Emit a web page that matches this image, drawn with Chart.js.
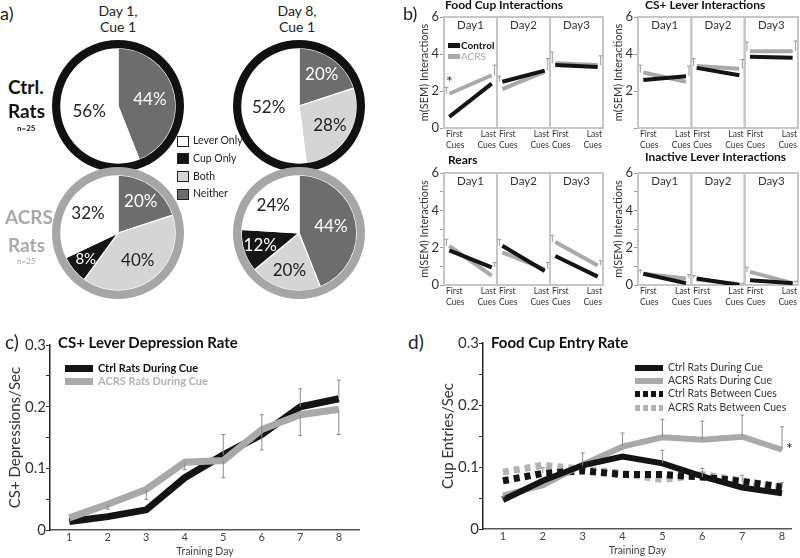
<!DOCTYPE html>
<html>
<head>
<meta charset="utf-8">
<script src="https://cdn.jsdelivr.net/npm/chart.js@4.4.1/dist/chart.umd.min.js"></script>
<style>
  body { margin: 0; background: #fff; width: 800px; height: 558px; position: relative; overflow: hidden; font-family: Lato, sans-serif; color: #222; }
  .t { position: absolute; white-space: nowrap; line-height: 1.2; }
  .sw { position: absolute; }
</style>
</head>
<body>
<script>
// ---- panel a: pies (order clockwise from 12 o'clock)
const pieCats = ['Neither', 'Both', 'Cup Only', 'Lever Only'];
const pieColors = ['#6d6d6d', '#d5d5d5', '#151515', '#ffffff'];
const pieTextColors = ['#fff', '#222', '#fff', '#222'];
const ctrlDay1 = [44, 0, 0, 56];
const ctrlDay8 = [20, 28, 0, 52];
const acrsDay1 = [20, 40, 8, 32];
const acrsDay8 = [44, 20, 12, 24];

// ---- panel b: first / last cues per day
const cueDays = ['Day1', 'Day2', 'Day3'];
const cueLabels = [['First', 'Cues'], ['Last', 'Cues']];
const cueTicks = [0, 1, 2, 3, 4, 5, 6];
const foodCtrl = [0.6, 2.4, 2.5, 3.1, 3.4, 3.3];
const foodAcrs = [1.85, 2.85, 2.1, 3.05, 3.5, 3.4];
const foodErr = [2.2, 3.4, 2.8, 3.75, 4.1, 3.9];
const leverCtrl = [2.6, 2.8, 3.25, 2.85, 3.85, 3.8];
const leverAcrs = [3.0, 2.5, 3.35, 3.2, 4.15, 4.15];
const leverErr = [3.4, 3.35, 3.75, 3.7, 4.65, 4.7];
const rearsCtrl = [1.85, 0.95, 2.1, 0.75, 1.55, 0.45];
const rearsAcrs = [2.1, 0.5, 1.75, 0.85, 2.3, 1.05];
const rearsErr = [2.45, 1.2, 2.45, 1.2, 2.65, 1.3];
const inactCtrl = [0.6, 0.1, 0.35, 0.0, 0.25, 0.1];
const inactAcrs = [0.6, 0.35, 0.3, 0.05, 0.7, 0.1];
const inactErr = [0.8, 0.55, 0.5, 0.1, 0.95, 0.2];

// ---- panels c, d: training days
const trainingDays = [1, 2, 3, 4, 5, 6, 7, 8];
const rateTicks = [0, 0.05, 0.1, 0.15, 0.2, 0.25, 0.3];
const pressCtrl = [0.014, 0.022, 0.033, 0.085, 0.122, 0.155, 0.200, 0.213];
const pressAcrs = [0.020, 0.042, 0.066, 0.110, 0.113, 0.163, 0.187, 0.196];
const pressCtrlErr = [0, 0, 0, 0, 0.033, 0.032, 0.029, 0.030];
const pressAcrsErr = [0, 0.008, 0.016, 0.012, 0.028, 0.033, 0.034, 0.041];
const cupCtrlCue = [0.047, 0.078, 0.103, 0.117, 0.106, 0.085, 0.067, 0.058];
const cupAcrsCue = [0.054, 0.071, 0.104, 0.133, 0.148, 0.144, 0.149, 0.128];
const cupCtrlBetween = [0.078, 0.090, 0.094, 0.088, 0.088, 0.084, 0.077, 0.068];
const cupAcrsBetween = [0.092, 0.103, 0.097, 0.090, 0.080, 0.088, 0.078, 0.067];
const cupCtrlCueErr = [0.006, 0, 0.020, 0, 0.021, 0, 0, 0];
const cupAcrsCueErr = [0, 0, 0, 0.022, 0.029, 0.030, 0.035, 0.037];
const cupBetweenErr = [0, 0.009, 0, 0, 0, 0.014, 0.010, 0.007];

Chart.defaults.font.family = 'Lato, sans-serif';
Chart.defaults.color = '#333';
Chart.defaults.animation = false;
Chart.defaults.plugins.legend.display = false;
Chart.defaults.plugins.tooltip.enabled = false;

function mk(left, top, w, h) {
  const c = document.createElement('canvas');
  c.width = w; c.height = h;
  c.style.cssText = `position:absolute;left:${left}px;top:${top}px;width:${w}px;height:${h}px`;
  document.body.appendChild(c);
  return c;
}

// text helper, cy = visual centre of the line
function txt(s, x, cy, size, o = {}) {
  const d = document.createElement('div');
  d.className = 't';
  d.textContent = s;
  d.style.fontSize = size + 'px';
  d.style.top = (cy - size * 0.65) + 'px';
  if (o.bold) d.style.fontWeight = 'bold';
  if (o.color) d.style.color = o.color;
  if (o.align === 'center') { d.style.left = (x - 100) + 'px'; d.style.width = '200px'; d.style.textAlign = 'center'; }
  else d.style.left = x + 'px';
  document.body.appendChild(d);
}

function swatch(x, cy, w, h, bg) {
  const d = document.createElement('div');
  d.className = 'sw';
  d.style.cssText += `left:${x}px;top:${cy - h / 2}px;width:${w}px;height:${h}px;background:${bg}`;
  document.body.appendChild(d);
  return d;
}

// ---------- a) pies
const pieLabels = {
  id: 'pieLabels',
  afterDatasetsDraw(chart) {
    const ds = chart.data.datasets[1], ctx = chart.ctx;
    chart.getDatasetMeta(1).data.forEach((arc, i) => {
      const v = ds.data[i];
      if (!v) return;
      const mid = (arc.startAngle + arc.endAngle) / 2;
      const r = arc.outerRadius * (0.76 - 0.0045 * v);
      ctx.save();
      ctx.font = (v < 10 ? 15 : 17) + 'px Lato';
      ctx.fillStyle = pieTextColors[i];
      ctx.textAlign = 'center';
      ctx.textBaseline = 'middle';
      ctx.fillText(v + '%', arc.x + r * Math.cos(mid), arc.y + r * Math.sin(mid));
      ctx.restore();
    });
  }
};

function pie(values, ring, cx, cy) {
  new Chart(mk(cx - 66, cy - 66, 132, 132), {
    type: 'doughnut',
    data: {
      labels: pieCats,
      datasets: [
        { data: [1], backgroundColor: [ring], borderWidth: 0, weight: 1 },
        { data: values, backgroundColor: pieColors, borderColor: '#fff', borderWidth: 1.2, weight: 7 }
      ]
    },
    options: { responsive: false, cutout: 0, layout: { padding: 0 } },
    plugins: [pieLabels]
  });
}

pie(ctrlDay1, '#111', 117.5, 105.5);
pie(ctrlDay8, '#111', 298.5, 105.5);
pie(acrsDay1, '#a6a6a6', 117.5, 233);
pie(acrsDay8, '#a6a6a6', 299, 233);

txt('a)', 0, 15, 18);
txt('Day 1,', 118, 12, 14, { align: 'center' });
txt('Cue 1', 118, 28, 14, { align: 'center' });
txt('Day 8,', 297, 12, 14, { align: 'center' });
txt('Cue 1', 297, 28, 14, { align: 'center' });
txt('Ctrl.', 8, 88, 19, { bold: true, color: '#111' });
txt('Rats', 8, 112, 19, { bold: true, color: '#111' });
txt('n=25', 17, 129, 8, { bold: true, color: '#111' });
txt('ACRS', 5, 218, 19, { bold: true, color: '#a9a9a9' });
txt('Rats', 8, 246, 19, { bold: true, color: '#a9a9a9' });
txt('n=25', 17, 262, 8, { color: '#a9a9a9' });

pieCats.slice().reverse().forEach((c, i) => {
  const cy = 141 + i * 17.7;
  const s = swatch(177, cy, 12, 11, pieColors[pieCats.length - 1 - i]);
  s.style.boxSizing = 'border-box';
  s.style.border = '1px solid #222';
  txt(c, 193, cy, 10.5, { color: '#222' });
});

// ---------- b) first vs last cues
function cuePoints(vals) {
  const pts = [];
  cueDays.forEach((d, i) => {
    pts.push({ x: i + 0.1, y: vals[2 * i] }, { x: i + 0.9, y: vals[2 * i + 1] }, { x: i + 1, y: null });
  });
  return pts;
}

const cuePanels = {
  id: 'cuePanels',
  beforeDatasetsDraw(chart) {
    const { ctx, chartArea: a, scales: { x } } = chart;
    ctx.save();
    ctx.strokeStyle = '#c6c6c6';
    ctx.lineWidth = 2;
    cueDays.forEach((d, i) => {
      const l = x.getPixelForValue(i), r = x.getPixelForValue(i + 1);
      ctx.strokeRect(l, a.top, r - l, a.bottom - a.top);
    });
    ctx.restore();
  },
  afterDatasetsDraw(chart) {
    const { ctx, chartArea: a, scales: { x, y } } = chart;
    const [c0, c1] = chart.data.datasets;
    ctx.save();
    ctx.strokeStyle = '#9a9a9a';
    ctx.lineWidth = 1;
    c1.errTop.forEach((top, k) => {
      const idx = Math.floor(k / 2) * 3 + (k % 2);
      const p = c0.data[idx];
      const lo = Math.max(p.y, c1.data[idx].y);
      const px = x.getPixelForValue(p.x) + (k % 2 ? 3 : -3);
      const y0 = y.getPixelForValue(lo), y1 = y.getPixelForValue(top);
      ctx.beginPath();
      ctx.moveTo(px, y0); ctx.lineTo(px, y1);
      ctx.moveTo(px - 2, y1); ctx.lineTo(px + 2, y1);
      ctx.stroke();
    });
    ctx.fillStyle = '#333';
    ctx.textBaseline = 'middle';
    cueDays.forEach((d, i) => {
      const l = x.getPixelForValue(i), r = x.getPixelForValue(i + 1);
      ctx.font = '11.5px Lato';
      ctx.textAlign = 'center';
      ctx.fillText(d, (l + r) / 2, a.top + 8);
      ctx.font = '8.5px Lato';
      ctx.textAlign = 'left';
      ctx.fillText(cueLabels[0][0], l + 2, a.bottom + 6);
      ctx.fillText(cueLabels[0][1], l + 2, a.bottom + 17.5);
      ctx.textAlign = 'right';
      ctx.fillText(cueLabels[1][0], r - 1, a.bottom + 6);
      ctx.fillText(cueLabels[1][1], r - 1, a.bottom + 17.5);
    });
    ctx.restore();
  }
};

function cueChart(ctrl, acrs, errTop, l, t, r, b, hideZero) {
  const left = l - 32, top = t - 17;
  new Chart(mk(left, top, r - left + 1, b - top + 26), {
    type: 'line',
    data: {
      datasets: [
        { data: cuePoints(ctrl), borderColor: '#141414', borderWidth: 4, pointRadius: 0, order: 1 },
        { data: cuePoints(acrs), borderColor: '#a9a9a9', borderWidth: 4, pointRadius: 0, order: 2, errTop: errTop }
      ]
    },
    options: {
      responsive: false,
      layout: { padding: { top: 17, bottom: 26, left: 0, right: 1 } },
      scales: {
        x: { type: 'linear', min: 0, max: 3, display: false },
        y: {
          min: 0, max: 6,
          afterBuildTicks: s => { s.ticks = cueTicks.map(v => ({ value: v })); },
          ticks: { callback: v => (v % 2 === 0 && !(hideZero && v === 0)) ? v : '', font: { size: 13 }, padding: 1, color: '#333' },
          grid: { drawOnChartArea: false, tickLength: 4, color: '#999' },
          border: { color: '#c6c6c6', width: 2 },
          title: { display: true, text: 'm(SEM) Interactions', font: { size: 11 }, padding: { top: 6, bottom: 0 }, color: '#333' },
          afterFit: s => { s.width = 32; }
        }
      }
    },
    plugins: [cuePanels]
  });
}

cueChart(foodCtrl, foodAcrs, foodErr, 444, 17, 603, 128, false);
cueChart(leverCtrl, leverAcrs, leverErr, 638, 17, 798, 128, true);
cueChart(rearsCtrl, rearsAcrs, rearsErr, 444, 173, 603, 285, false);
cueChart(inactCtrl, inactAcrs, inactErr, 638, 173, 798, 285, false);

txt('b)', 403, 15, 18);
txt('Food Cup Interactions', 445, 6, 12, { bold: true, color: '#111' });
txt('CS+ Lever Interactions', 645, 6, 12, { bold: true, color: '#111' });
txt('Rears', 448, 161, 12, { bold: true, color: '#111' });
txt('Inactive Lever Interactions', 645, 158, 12, { bold: true, color: '#111' });
swatch(448, 45, 12, 5, '#141414');
swatch(448, 56, 12, 5, '#a9a9a9');
txt('Control', 461, 45, 10, { bold: true, color: '#111' });
txt('ACRS', 461, 56, 10, { color: '#a9a9a9' });
txt('*', 446, 81, 16, { color: '#222' });

// ---------- c) and d) rates over training days
const errorBars = {
  id: 'errorBars',
  afterDatasetsDraw(chart) {
    const { ctx, scales: { x, y } } = chart;
    ctx.save();
    ctx.strokeStyle = '#8c8c8c';
    ctx.lineWidth = 1;
    chart.data.datasets.forEach(ds => {
      ['errUp', 'errDown'].forEach(k => {
        if (!ds[k]) return;
        ds.data.forEach((p, i) => {
          const e = ds[k][i];
          if (!e) return;
          const px = x.getPixelForValue(p.x);
          const y0 = y.getPixelForValue(p.y);
          const y1 = y.getPixelForValue(k === 'errUp' ? p.y + e : p.y - e);
          ctx.beginPath();
          ctx.moveTo(px, y0); ctx.lineTo(px, y1);
          ctx.moveTo(px - 2, y1); ctx.lineTo(px + 2, y1);
          ctx.stroke();
        });
      });
    });
    ctx.restore();
  }
};

const pts = vals => trainingDays.map((d, i) => ({ x: d, y: vals[i] }));

function rateOptions(yTitle, xMax) {
  return {
    responsive: false,
    layout: { padding: { top: 15, bottom: 0, left: 0, right: 0 } },
    scales: {
      x: {
        type: 'linear', min: 0.5, max: xMax,
        afterBuildTicks: s => { s.ticks = trainingDays.map(v => ({ value: v })); },
        ticks: { font: { size: 11 }, padding: 1, color: '#444' },
        grid: { display: false, drawTicks: false },
        border: { color: '#555', width: 1.5 },
        title: { display: true, text: 'Training Day', font: { size: 10.5 }, padding: { top: 0, bottom: 0 }, color: '#444' }
      },
      y: {
        min: 0, max: 0.3,
        afterBuildTicks: s => { s.ticks = rateTicks.map(v => ({ value: v })); },
        ticks: {
          callback: v => Math.round(v * 100) % 10 === 0 ? (v === 0 ? '0' : v.toFixed(1)) : '',
          font: { size: 15 }, padding: 0, color: '#333'
        },
        grid: { drawOnChartArea: false, tickLength: 4, color: '#333' },
        border: { color: '#222', width: 1.5 },
        title: { display: true, text: yTitle, font: { size: 15 }, padding: { top: 4, bottom: 0 }, color: '#333' },
        afterFit: s => { s.width = 48; }
      }
    }
  };
}

new Chart(mk(2, 330, 358, 228), {
  type: 'line',
  data: {
    datasets: [
      { data: pts(pressCtrl), borderColor: '#141414', borderWidth: 7, pointRadius: 0, order: 2, errUp: pressCtrlErr },
      { data: pts(pressAcrs), borderColor: '#a9a9a9', borderWidth: 7, pointRadius: 0, order: 1, errDown: pressAcrsErr }
    ]
  },
  options: rateOptions('CS+ Depressions/Sec', 8.55),
  plugins: [errorBars]
});

new Chart(mk(435, 328, 357, 229), {
  type: 'line',
  data: {
    datasets: [
      { data: pts(cupCtrlCue), borderColor: '#141414', borderWidth: 6, pointRadius: 0, order: 1, errUp: cupCtrlCueErr },
      { data: pts(cupAcrsCue), borderColor: '#a9a9a9', borderWidth: 6, pointRadius: 0, order: 2, errUp: cupAcrsCueErr },
      { data: pts(cupCtrlBetween), borderColor: '#141414', borderWidth: 7, borderDash: [6, 5], pointRadius: 0, order: 3, errUp: cupBetweenErr },
      { data: pts(cupAcrsBetween), borderColor: '#b3b3b3', borderWidth: 7, borderDash: [6, 5], pointRadius: 0, order: 4 }
    ]
  },
  options: rateOptions('Cup Entries/Sec', 8.25),
  plugins: [errorBars]
});

txt('c)', 5, 343, 19);
txt('CS+ Lever Depression Rate', 58, 343, 15, { bold: true, color: '#111' });
swatch(65, 368, 28, 7, '#141414');
swatch(65, 381, 28, 7, '#a9a9a9');
txt('Ctrl Rats During Cue', 98, 368, 11, { bold: true, color: '#111' });
txt('ACRS Rats During Cue', 98, 381, 11, { bold: true, color: '#b3b3b3' });

txt('d)', 408, 343, 19);
txt('Food Cup Entry Rate', 491, 343, 15, { bold: true, color: '#111' });
swatch(635, 368, 28, 6, '#141414');
swatch(635, 381, 28, 6, '#a9a9a9');
swatch(635, 394, 28, 6, 'repeating-linear-gradient(90deg,#141414 0 5px,transparent 5px 8px)');
swatch(635, 408, 28, 6, 'repeating-linear-gradient(90deg,#b3b3b3 0 5px,transparent 5px 8px)');
txt('Ctrl Rats During Cue', 668, 368, 10.5, { color: '#333' });
txt('ACRS Rats During Cue', 668, 381, 10.5, { color: '#333' });
txt('Ctrl Rats Between Cues', 668, 394, 10.5, { color: '#333' });
txt('ACRS Rats Between Cues', 668, 408, 10.5, { color: '#333' });
txt('*', 786, 448, 16, { color: '#222' });
</script>
</body>
</html>
